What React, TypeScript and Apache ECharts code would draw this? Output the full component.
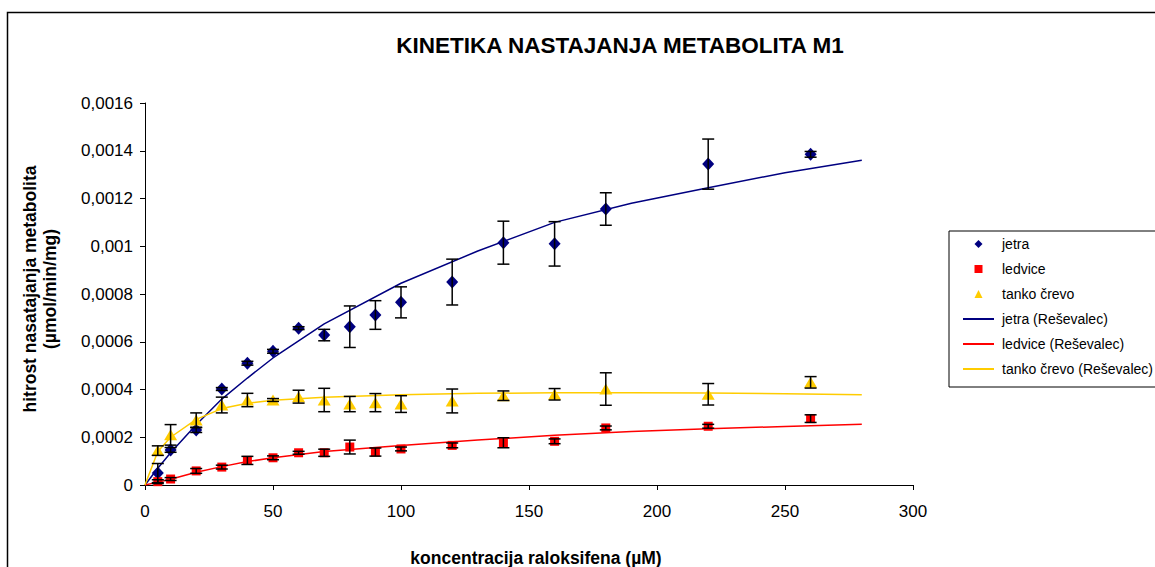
import React, { useEffect, useRef } from "react";
import * as echarts from "echarts";

// measured concentrations (µM)
const concentrations = [5, 10, 20, 30, 40, 50, 60, 70, 80, 90, 100, 120, 140, 160, 180, 220, 260];

// measured rates (µmol/min/mg)
const jetra = [0.00005, 0.000147, 0.00023, 0.000402, 0.00051, 0.00056, 0.000657, 0.000628, 0.000663, 0.000712, 0.000765, 0.00085, 0.001015, 0.00101, 0.001156, 0.001344, 0.001385];
const jetraErr = [0.00004, 0.00001, 0.00001, 0.000006, 0.000008, 0.000008, 0.000006, 0.000024, 0.000087, 0.00006, 0.000065, 0.000096, 0.00009, 0.000093, 0.000068, 0.000105, 0.000012];

const ledvice = [0.000014, 0.000025, 0.000059, 0.000075, 0.000103, 0.000114, 0.000135, 0.000135, 0.000159, 0.000138, 0.000151, 0.000166, 0.000177, 0.000183, 0.000239, 0.000246, 0.000278];
const ledviceErr = [0.000008, 0.000006, 0.00001, 0.000008, 0.000017, 0.000008, 0.000006, 0.000015, 0.000029, 0.000017, 0.000008, 0.00001, 0.000021, 0.00001, 0.000008, 0.000008, 0.000016];

const tanko = [0.000144, 0.00021, 0.000272, 0.000335, 0.000356, 0.000356, 0.00037, 0.000356, 0.000339, 0.000345, 0.000339, 0.000352, 0.000374, 0.00038, 0.000402, 0.00038, 0.00043];
const tankoErr = [0.00002, 0.000043, 0.00003, 0.000033, 0.000028, 0.000006, 0.000027, 0.000049, 0.000032, 0.000038, 0.000035, 0.00005, 0.00002, 0.000024, 0.000068, 0.000045, 0.000024];

// fitted curves (Reševalec)
const fitX = [0, 5, 10, 20, 30, 40, 50, 70, 100, 130, 160, 190, 220, 250, 280];
const jetraFit = [0, 0.00007, 0.000135, 0.000252, 0.00036, 0.000448, 0.000532, 0.000675, 0.000845, 0.00098, 0.0011, 0.00118, 0.001245, 0.001308, 0.00136];
const ledviceFit = [0, 0.000012, 0.000024, 0.000053, 0.000077, 0.000098, 0.000114, 0.00014, 0.000165, 0.000188, 0.000208, 0.000224, 0.000236, 0.000245, 0.000254];
const tankoFit = [0, 0.00014, 0.0002, 0.000275, 0.00032, 0.000342, 0.000355, 0.000368, 0.000378, 0.000384, 0.000386, 0.000386, 0.000385, 0.000382, 0.000378];

const NAVY = "#000080";
const RED = "#FF0000";
const YELLOW = "#FFCC00";
const FONT = 'Arial, "Liberation Sans", sans-serif';

const pairs = (xs: number[], ys: number[]) => xs.map((x, i) => [x, ys[i]]);
const errs = (xs: number[], ys: number[], es: number[]) => xs.map((x, i) => [x, ys[i] - es[i], ys[i] + es[i]]);

const errorBarSeries = (data: number[][]) => ({
  type: "custom",
  z: 5,
  silent: true,
  encode: { x: 0, y: [1, 2] },
  data,
  renderItem: (params: any, api: any) => {
    const x = api.value(0);
    const top = api.coord([x, api.value(2)]);
    const bot = api.coord([x, api.value(1)]);
    const w = 6;
    const style = { stroke: "#000", lineWidth: 1.5 };
    return {
      type: "group",
      children: [
        { type: "line", shape: { x1: top[0], y1: top[1], x2: bot[0], y2: bot[1] }, style },
        { type: "line", shape: { x1: top[0] - w, y1: top[1], x2: top[0] + w, y2: top[1] }, style },
        { type: "line", shape: { x1: bot[0] - w, y1: bot[1], x2: bot[0] + w, y2: bot[1] }, style },
      ],
    };
  },
});

const markerSeries = (name: string, data: number[][], symbol: string, size: any, color: string) => ({
  name,
  type: "line",
  data,
  symbol,
  symbolSize: size,
  showSymbol: true,
  showAllSymbol: true,
  z: 4,
  itemStyle: { color },
  lineStyle: { width: 0, opacity: 0 },
});

const fitSeries = (name: string, data: number[][], color: string) => ({
  name,
  type: "line",
  data,
  symbol: "none",
  z: 3,
  lineStyle: { color, width: 1.5 },
  itemStyle: { color },
});

export default function App() {
  const ref = useRef<HTMLDivElement>(null);

  useEffect(() => {
    document.body.style.margin = "0";
    const chart = echarts.init(ref.current!, undefined, { renderer: "svg" });
    chart.setOption({
      animation: false,
      backgroundColor: "#fff",
      textStyle: { fontFamily: FONT },
      grid: { left: 145, top: 103, right: 242, bottom: 82, containLabel: false, outerBoundsMode: "none" },
      graphic: [
        {
          type: "rect",
          silent: true,
          z: -10,
          shape: { x: 7.5, y: 12.5, width: 1200, height: 620 },
          style: { fill: "none", stroke: "#000", lineWidth: 1.5 },
        },
        {
          type: "text",
          x: 620,
          y: 45,
          silent: true,
          style: {
            text: "KINETIKA NASTAJANJA METABOLITA M1",
            font: `bold 22.5px ${FONT}`,
            fill: "#000",
            textAlign: "center",
            textVerticalAlign: "middle",
          },
        },
      ],
      legend: {
        orient: "vertical",
        left: 949,
        top: 231,
        padding: [6, 12, 11, 13],
        itemWidth: 31,
        itemHeight: 10,
        itemGap: 11,
        borderColor: "#000",
        borderWidth: 1,
        selectedMode: false,
        textStyle: { fontSize: 14, color: "#000", fontFamily: FONT, lineHeight: 14, padding: [0, 0, 0, 3] },
        data: [
          { name: "jetra" },
          { name: "ledvice" },
          { name: "tanko črevo" },
          { name: "jetra (Reševalec)", itemStyle: { opacity: 0 } },
          { name: "ledvice (Reševalec)", itemStyle: { opacity: 0 } },
          { name: "tanko črevo (Reševalec)", itemStyle: { opacity: 0 } },
        ],
      },
      xAxis: {
        type: "value",
        min: 0,
        max: 300,
        interval: 50,
        name: "koncentracija raloksifena (µM)",
        nameLocation: "middle",
        nameGap: 64,
        nameTextStyle: { fontSize: 17.5, fontWeight: "bold", color: "#000", fontFamily: FONT, padding: [0, 0, 0, 14] },
        axisLine: { show: true, lineStyle: { color: "#000", width: 1 } },
        axisTick: { show: true, inside: false, length: 5, lineStyle: { color: "#000" } },
        axisLabel: { fontSize: 17, color: "#000", fontFamily: FONT, margin: 18 },
        splitLine: { show: false },
      },
      yAxis: {
        type: "value",
        min: 0,
        max: 0.0016,
        interval: 0.0002,
        name: "hitrost nasatajanja metabolita\n(µmol/min/mg)",
        nameLocation: "middle",
        nameGap: 85,
        nameTextStyle: { fontSize: 17.5, fontWeight: "bold", color: "#000", fontFamily: FONT, lineHeight: 20, padding: [0, 0, 0, 10] },
        axisLine: { show: true, lineStyle: { color: "#000", width: 1 } },
        axisTick: { show: true, inside: false, length: 5, lineStyle: { color: "#000" } },
        axisLabel: {
          fontSize: 17,
          color: "#000",
          fontFamily: FONT,
          margin: 12,
          formatter: (v: number) => (v === 0 ? "0" : String(parseFloat(v.toFixed(4))).replace(".", ",")),
        },
        splitLine: { show: false },
      },
      series: [
        fitSeries("jetra (Reševalec)", pairs(fitX, jetraFit), NAVY),
        fitSeries("ledvice (Reševalec)", pairs(fitX, ledviceFit), RED),
        fitSeries("tanko črevo (Reševalec)", pairs(fitX, tankoFit), YELLOW),
        markerSeries("jetra", pairs(concentrations, jetra), "diamond", [12, 13], NAVY),
        markerSeries("ledvice", pairs(concentrations, ledvice), "rect", 9, RED),
        markerSeries("tanko črevo", pairs(concentrations, tanko), "triangle", [13, 11], YELLOW),
        errorBarSeries(errs(concentrations, jetra, jetraErr)),
        errorBarSeries(errs(concentrations, ledvice, ledviceErr)),
        errorBarSeries(errs(concentrations, tanko, tankoErr)),
      ],
    });
    return () => chart.dispose();
  }, []);

  return <div ref={ref} style={{ width: 1155, height: 567 }} />;
}
